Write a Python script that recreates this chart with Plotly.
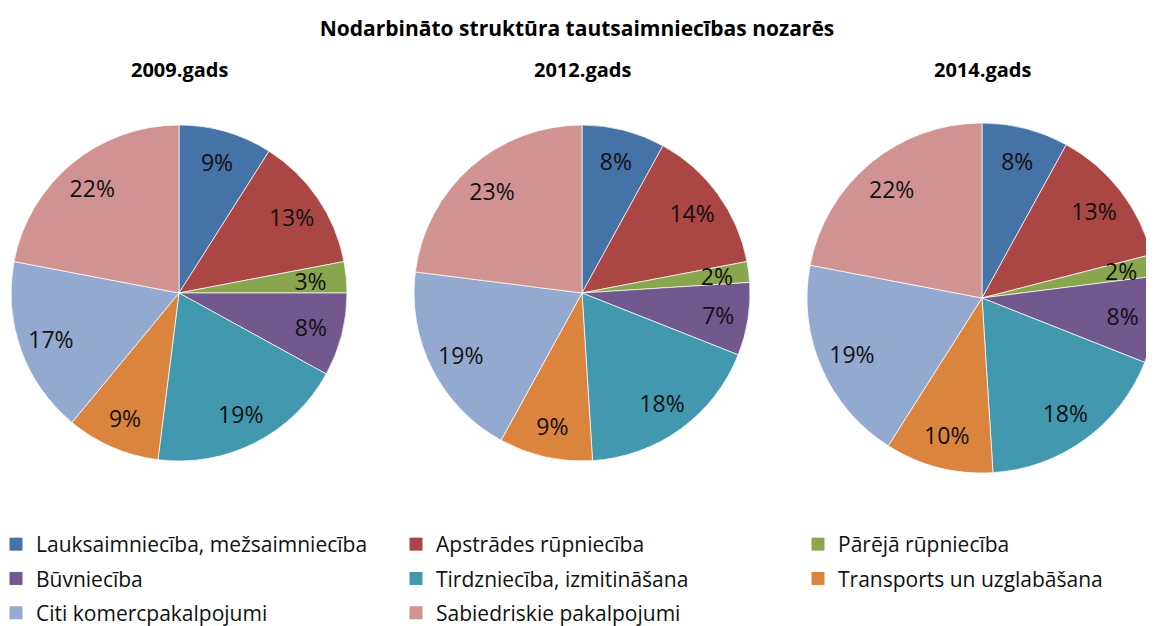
import plotly.graph_objects as go

W, H = 1154, 626
OFF = 8  # page body margin in the browser

categories = [
    "Lauksaimniecība, mežsaimniecība",
    "Apstrādes rūpniecība",
    "Pārējā rūpniecība",
    "Būvniecība",
    "Tirdzniecība, izmitināšana",
    "Transports un uzglabāšana",
    "Citi komercpakalpojumi",
    "Sabiedriskie pakalpojumi",
]
colors = ["#4572A7", "#AA4643", "#89A54E", "#71588F",
          "#4198AF", "#DB843D", "#93A9CF", "#D19392"]

years = ["2009.gads", "2012.gads", "2014.gads"]
share_2009 = [9, 13, 3, 8, 19, 9, 17, 22]
share_2012 = [8, 14, 2, 7, 18, 9, 19, 23]
share_2014 = [8, 13, 2, 8, 18, 10, 19, 22]
shares = [share_2009, share_2012, share_2014]

# pie centre and radius in screen pixels
pie_geo = [(179, 293, 168), (582, 293, 168), (982, 298, 175)]

def px_x(v):
    return (v - OFF) / W

def px_y(v):
    return 1 - (v - OFF) / H

def domain(cx, cy, r):
    return dict(x=[max(px_x(cx - r), 0), min(px_x(cx + r), 1)],
                y=[max(px_y(cy + r), 0), min(px_y(cy - r), 1)])

FONT = "Open Sans, Noto Sans, sans-serif"
LABEL_FONT = dict(family=FONT, size=23, color="#111111")
CLEAR = ["rgba(0,0,0,0)"] * len(categories)

fig = go.Figure()
for name, vals, (cx, cy, r) in zip(years, shares, pie_geo):
    # visible pie
    fig.add_trace(go.Pie(
        labels=categories, values=vals, name=name,
        sort=False, direction="clockwise", rotation=0,
        marker=dict(colors=colors, line=dict(color="rgba(255,255,255,0.7)", width=1)),
        textinfo="none", domain=domain(cx, cy, r),
        showlegend=False, hoverinfo="label+percent",
    ))
    # percentage labels of the wider slices (placed in an outer ring)
    fig.add_trace(go.Pie(
        labels=categories, values=vals, name=name, hole=0.62,
        sort=False, direction="clockwise", rotation=0,
        marker=dict(colors=CLEAR, line=dict(width=0)),
        texttemplate=["%{percent:.0%}" if v >= 5 else "" for v in vals],
        textposition="inside", insidetextorientation="horizontal",
        textfont=LABEL_FONT, domain=domain(cx, cy, r),
        showlegend=False, hoverinfo="skip",
    ))
    # percentage labels of the narrow slices
    fig.add_trace(go.Pie(
        labels=categories, values=vals, name=name,
        sort=False, direction="clockwise", rotation=0,
        marker=dict(colors=CLEAR, line=dict(width=0)),
        texttemplate=["%{percent:.0%}" if v < 5 else "" for v in vals],
        textposition="inside", insidetextorientation="horizontal",
        textfont=LABEL_FONT, domain=domain(cx, cy, r * 0.86),
        showlegend=False, hoverinfo="skip",
    ))

# legend entries (three columns)
legend_cols = [[0, 3, 6], [1, 4, 7], [2, 5]]
legend_names = ["legend", "legend2", "legend3"]
for col, lg in zip(legend_cols, legend_names):
    for i in col:
        fig.add_trace(go.Scatter(
            x=[None], y=[None], mode="markers", name=categories[i],
            marker=dict(symbol="square", size=13, color=colors[i], line=dict(width=0)),
            legend=lg, legendgroup=f"g{i}", showlegend=True, hoverinfo="skip",
        ))

leg_common = dict(orientation="v", xanchor="left", yanchor="top",
                  font=dict(family=FONT, size=21, color="#111111"),
                  bgcolor="rgba(0,0,0,0)", tracegroupgap=4, itemsizing="trace")
leg_x = [-4, 396, 798]
legend_top = 524

layout_legends = {}
for lg, lx in zip(legend_names, leg_x):
    layout_legends[lg] = dict(leg_common, x=px_x(lx), y=px_y(legend_top))

annotations = []
for name, (cx, cy, r) in zip(years, pie_geo):
    annotations.append(dict(
        text=f"<b>{name}</b>", x=px_x(cx), y=px_y(70), xref="paper", yref="paper",
        showarrow=False, xanchor="center", yanchor="middle",
        font=dict(family=FONT, size=20, color="#000000"),
    ))

fig.update_layout(
    width=W, height=H,
    margin=dict(l=0, r=0, t=0, b=0, autoexpand=False),
    paper_bgcolor="white", plot_bgcolor="white",
    title=dict(text="<b>Nodarbināto struktūra tautsaimniecības nozarēs</b>",
               x=px_x(577), xanchor="center", y=px_y(29), yanchor="middle", yref="container",
               font=dict(family=FONT, size=21, color="#000000")),
    xaxis=dict(visible=False), yaxis=dict(visible=False),
    annotations=annotations,
    uniformtext=dict(minsize=23, mode="show"),
    **layout_legends,
)

fig.write_html("out.html")
